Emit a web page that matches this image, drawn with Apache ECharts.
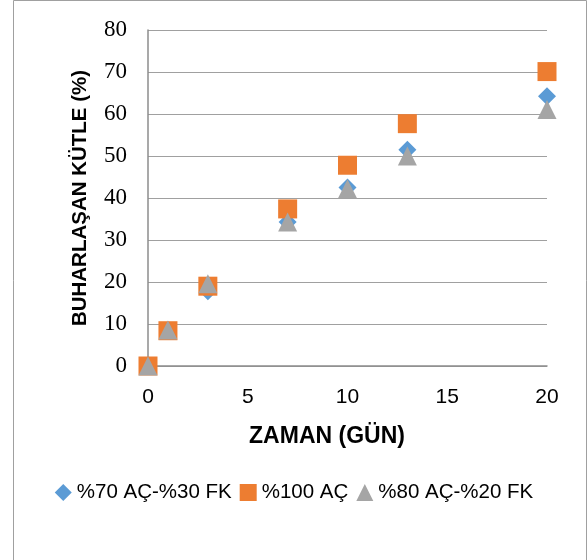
<!DOCTYPE html>
<html>
<head>
<meta charset="utf-8">
<script src="https://cdn.jsdelivr.net/npm/echarts@6/dist/echarts.min.js"></script>
<style>
  html, body { margin: 0; padding: 0; background: #fff; }
  #chart { width: 588px; height: 560px; }
</style>
</head>
<body>
<div id="chart"></div>
<script>
// gün değerleri (x ekseni)
const days = [0, 1, 3, 7, 10, 13, 20];

// buharlaşan kütle (%)
const seriesNames = ['%70 AÇ-%30 FK', '%100 AÇ', '%80 AÇ-%20 FK'];
const mix70 = [0, 8.5, 17.8, 34.3, 42.5, 51.5, 64.2];
const pure100 = [0, 8.4, 19.0, 37.4, 47.8, 57.7, 70.1];
const mix80 = [0, 8.6, 19.6, 34.3, 42.2, 50.0, 61.1];

const colors = ['#5B9BD5', '#ED7D31', '#A5A5A5'];
const symbols = ['diamond', 'rect', 'triangle'];

const toPoints = (vals) => days.map((d, i) => [d, vals[i]]);

const chart = echarts.init(document.getElementById('chart'));

chart.setOption({
  animation: false,
  backgroundColor: '#fff',
  grid: { left: 148, right: 41, top: 30, bottom: 194 },
  legend: {
    left: 'center',
    top: 477,
    itemWidth: 17,
    itemHeight: 17,
    itemGap: 8,
    textStyle: { fontFamily: 'Liberation Sans', fontSize: 20.5, color: '#000' },
    data: seriesNames.map((n, i) => ({ name: n, icon: symbols[i] }))
  },
  xAxis: {
    type: 'value',
    min: 0,
    max: 20,
    interval: 5,
    axisLine: { show: true, lineStyle: { color: '#8c8c8c', width: 1.5 } },
    axisTick: { show: false },
    splitLine: { show: false },
    axisLabel: {
      margin: 21,
      fontFamily: 'Liberation Sans',
      fontSize: 21,
      color: '#000'
    }
  },
  yAxis: {
    type: 'value',
    min: 0,
    max: 80,
    interval: 10,
    axisLine: { show: true, lineStyle: { color: '#8c8c8c', width: 1.5 } },
    axisTick: { show: false },
    splitLine: { show: true, lineStyle: { color: '#a0a0a0', width: 1.2 } },
    axisLabel: {
      margin: 21,
      fontFamily: 'Liberation Serif',
      fontSize: 23,
      color: '#000'
    }
  },
  graphic: [
    {
      type: 'rect',
      shape: { x: 13.5, y: 0.5, width: 573, height: 580 },
      style: { fill: 'none', stroke: '#a0a0a0', lineWidth: 1 },
      silent: true
    },
    {
      type: 'text',
      x: 327,
      y: 437,
      style: {
        text: 'ZAMAN (GÜN)',
        fontFamily: 'Liberation Sans',
        fontWeight: 'bold',
        fontSize: 23,
        fill: '#000',
        align: 'center',
        verticalAlign: 'middle'
      }
    },
    {
      type: 'text',
      x: 80,
      y: 198,
      rotation: Math.PI / 2,
      style: {
        text: 'BUHARLAŞAN KÜTLE (%)',
        fontFamily: 'Liberation Sans',
        fontWeight: 'bold',
        fontSize: 20.5,
        fill: '#000',
        align: 'center',
        verticalAlign: 'middle'
      }
    }
  ],
  series: [mix70, pure100, mix80].map((vals, i) => ({
    name: seriesNames[i],
    type: 'scatter',
    symbol: symbols[i],
    symbolSize: i === 0 ? 18 : 19,
    itemStyle: { color: colors[i], opacity: 1 },
    z: 2 + i,
    data: toPoints(vals)
  }))
});
</script>
</body>
</html>
